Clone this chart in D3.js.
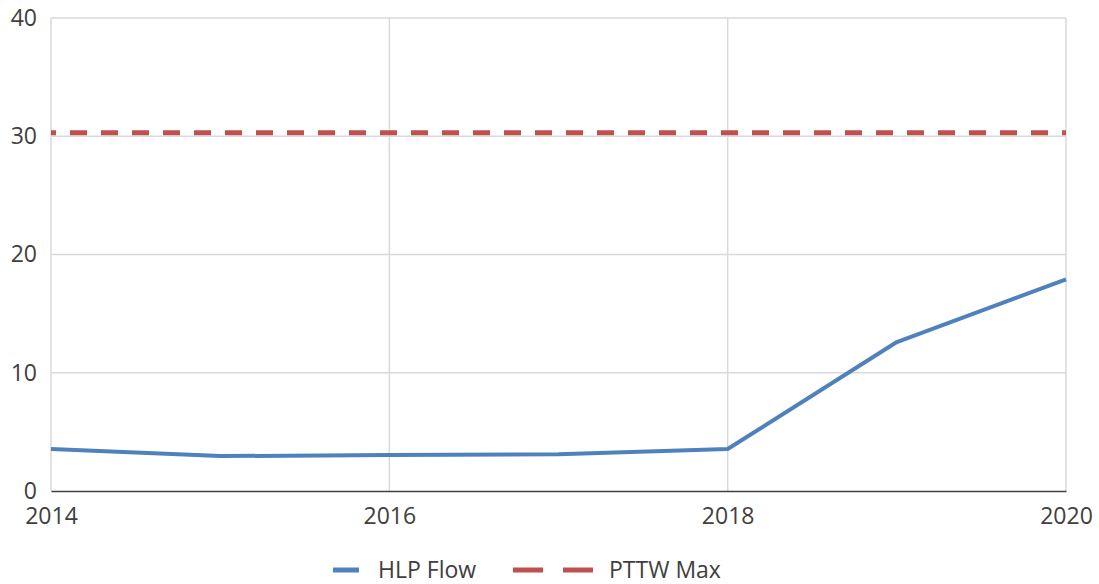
<!DOCTYPE html>
<html>
<head>
<meta charset="utf-8">
<script src="https://cdn.jsdelivr.net/npm/d3@7"></script>
<style>
  body { margin: 0; background: #fff; }
  text { font-family: "Open Sans", sans-serif; }
</style>
</head>
<body>
<div id="chart"></div>
<script>
const years = [2014, 2015, 2016, 2017, 2018, 2019, 2020];
const hlpFlow = [3.55, 2.95, 3.05, 3.1, 3.55, 12.6, 17.9];
const pttwMax = [30.3, 30.3, 30.3, 30.3, 30.3, 30.3, 30.3];
const xTicks = [2014, 2016, 2018, 2020];
const yTicks = [0, 10, 20, 30, 40];
const seriesNames = ['HLP Flow', 'PTTW Max'];

let width = 1099, height = 584;
let margin = { top: 18, bottom: 93, left: 51, right: 33 };

let svg = d3.select('#chart')
  .append('svg')
  .attr('width', width)
  .attr('height', height);

let xscale = d3.scaleLinear()
  .domain([2014, 2020])
  .range([margin.left, width - margin.right]);

let yscale = d3.scaleLinear()
  .domain([0, 40])
  .range([height - margin.bottom, margin.top]);

// gridlines
svg.append('g')
  .selectAll('line.h')
  .data(yTicks.filter(d => d > 0))
  .join('line')
  .attr('x1', margin.left)
  .attr('x2', width - margin.right)
  .attr('y1', d => yscale(d))
  .attr('y2', d => yscale(d))
  .attr('stroke', '#d9d9d9')
  .attr('stroke-width', 1.5);

svg.append('g')
  .selectAll('line.v')
  .data(xTicks)
  .join('line')
  .attr('x1', d => xscale(d))
  .attr('x2', d => xscale(d))
  .attr('y1', margin.top)
  .attr('y2', height - margin.bottom)
  .attr('stroke', '#d9d9d9')
  .attr('stroke-width', 1.5);

// y axis labels
let yAxis = svg.append('g')
  .attr('transform', `translate(${margin.left},0)`)
  .call(d3.axisLeft(yscale).tickValues(yTicks).tickSize(0).tickPadding(14));
yAxis.select('.domain').remove();
yAxis.selectAll('text')
  .attr('fill', '#404040')
  .style('font-size', '23px');

// x axis
let xAxis = svg.append('g')
  .attr('transform', `translate(0,${height - margin.bottom})`)
  .call(d3.axisBottom(xscale).tickValues(xTicks).tickFormat(d3.format('d')).tickSize(0).tickPadding(17));
xAxis.select('.domain')
  .attr('stroke', '#404040')
  .attr('stroke-width', 1.5);
xAxis.selectAll('text')
  .attr('fill', '#404040')
  .style('font-size', '23px');

const line = d3.line()
  .x((d, i) => xscale(years[i]))
  .y(d => yscale(d));

svg.append('path')
  .datum(pttwMax)
  .attr('fill', 'none')
  .attr('stroke', '#c0504d')
  .attr('stroke-width', 5)
  .attr('stroke-dasharray', '17,14')
  .attr('stroke-dashoffset', 12)
  .attr('d', line);

svg.append('path')
  .datum(hlpFlow)
  .attr('fill', 'none')
  .attr('stroke', '#4f81bd')
  .attr('stroke-width', 4)
  .attr('stroke-linejoin', 'round')
  .attr('d', line);

// legend
let legend = svg.append('g').attr('transform', 'translate(0,570)');

legend.append('line')
  .attr('x1', 333).attr('x2', 359)
  .attr('y1', 0).attr('y2', 0)
  .attr('stroke', '#4f81bd')
  .attr('stroke-width', 5);

legend.append('text')
  .attr('x', 378).attr('y', 0)
  .attr('dy', '0.35em')
  .attr('fill', '#404040')
  .style('font-size', '23px')
  .text(seriesNames[0]);

legend.append('line')
  .attr('x1', 513).attr('x2', 594)
  .attr('y1', 0).attr('y2', 0)
  .attr('stroke', '#c0504d')
  .attr('stroke-width', 5)
  .attr('stroke-dasharray', '30,20');

legend.append('text')
  .attr('x', 609).attr('y', 0)
  .attr('dy', '0.35em')
  .attr('fill', '#404040')
  .style('font-size', '23px')
  .text(seriesNames[1]);
</script>
</body>
</html>
